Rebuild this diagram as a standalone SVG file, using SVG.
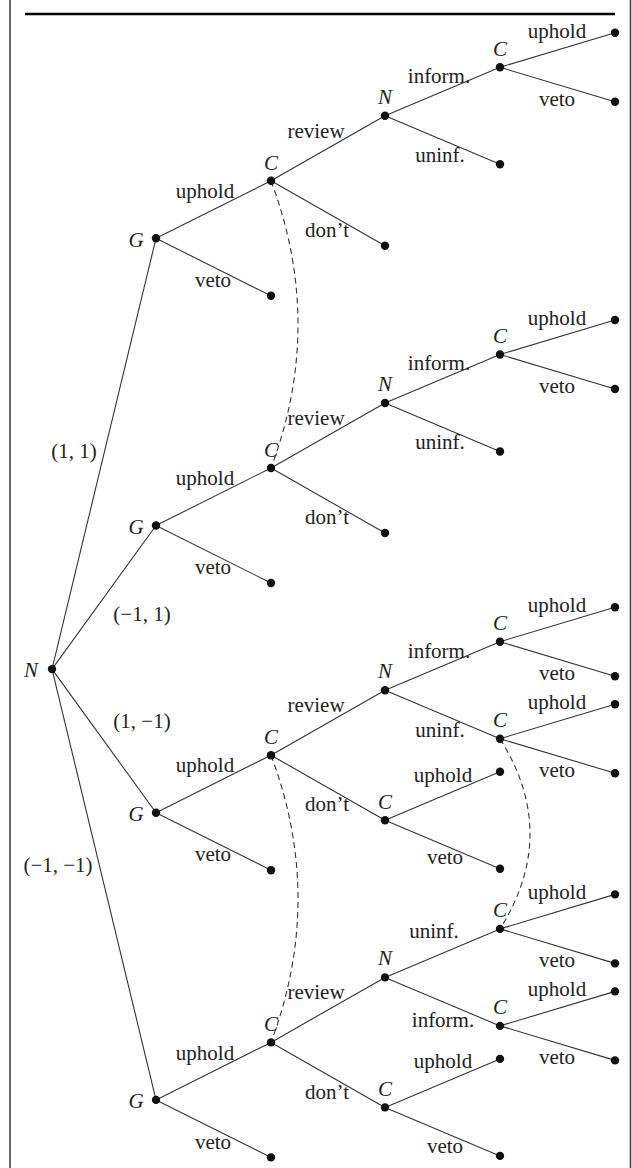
<svg xmlns="http://www.w3.org/2000/svg" width="632" height="1168" viewBox="0 0 632 1168">
<style>
text{font-family:"Liberation Serif","Times New Roman",serif;font-size:21px;fill:#222;text-anchor:middle}
.m{font-style:italic}
.e{stroke:#333;stroke-width:1.1;fill:none}
.d{stroke:#333;stroke-width:1.1;fill:none;stroke-dasharray:6 4}
.dot{fill:#111}
</style>
<rect width="632" height="1168" fill="#fff"/>
<g id="frame">
<line x1="10" y1="0" x2="10" y2="1168" stroke="#444" stroke-width="1.6"/>
<line x1="630.5" y1="0" x2="630.5" y2="1168" stroke="#444" stroke-width="1.6"/>
<line x1="25" y1="14" x2="615" y2="14" stroke="#000" stroke-width="2.6"/>
</g>
<g id="connectors">
<path class="e" d="M52 669.1L156 238.3M52 669.1L156 525.5M52 669.1L156 812.7M52 669.1L156 1099.9"/>
<path class="e" d="M156 238.3L271 180.8M156 238.3L271 295.8M271 180.8L385 115.8M271 180.8L385 245.8M385 115.8L500 67.3M385 115.8L500 164.3M500 67.3L615 32.8M500 67.3L615 101.8"/>
<path class="e" d="M156 525.5L271 468M156 525.5L271 583M271 468L385 403M271 468L385 533M385 403L500 354.5M385 403L500 451.5M500 354.5L615 320M500 354.5L615 389"/>
<path class="e" d="M156 812.7L271 755.2M156 812.7L271 870.2M271 755.2L385 690.2M271 755.2L385 820.2M385 690.2L500 641.7M385 690.2L500 738.7M500 641.7L615 607.2M500 641.7L615 676.2M500 738.7L615 704.2M500 738.7L615 773.2M385 820.2L500 771.7M385 820.2L500 868.7"/>
<path class="e" d="M156 1099.9L271 1042.4M156 1099.9L271 1157.4M271 1042.4L385 977.4M271 1042.4L385 1107.4M385 977.4L500 928.9M385 977.4L500 1025.9M500 928.9L615 894.4M500 928.9L615 963.4M500 1025.9L615 991.4M500 1025.9L615 1060.4M385 1107.4L500 1058.9M385 1107.4L500 1155.9"/>
<path class="d" d="M271 180.8Q325 324.4 271 468"/>
<path class="d" d="M271 755.2Q325 898.8 271 1042.4"/>
<path class="d" d="M500 738.7Q560 833.8 500 928.9"/>
</g>
<g id="root">
<circle class="dot" cx="52" cy="669.1" r="4.2"/>
<text class="m" x="31" y="677">N</text>
<text x="74" y="458">(1, 1)</text>
<text x="142" y="621">(−1, 1)</text>
<text x="142" y="728">(1, −1)</text>
<text x="58" y="872">(−1, −1)</text>
</g>
<g id="block1">
<g class="dot">
<circle cx="156" cy="238.3" r="4.2"/><circle cx="271" cy="180.8" r="4.2"/><circle cx="271" cy="295.8" r="4.2"/><circle cx="385" cy="115.8" r="4.2"/><circle cx="385" cy="245.8" r="4.2"/><circle cx="500" cy="67.3" r="4.2"/><circle cx="500" cy="164.3" r="4.2"/><circle cx="615" cy="32.8" r="4.2"/><circle cx="615" cy="101.8" r="4.2"/>
</g>
<text class="m" x="136" y="247">G</text>
<text class="m" x="271" y="170">C</text>
<text class="m" x="385" y="104">N</text>
<text class="m" x="500" y="56">C</text>
<text x="205" y="198">uphold</text>
<text x="213" y="287">veto</text>
<text x="316" y="138">review</text>
<text x="327" y="237">don’t</text>
<text x="439" y="83">inform.</text>
<text x="440" y="162">uninf.</text>
<text x="557" y="38">uphold</text>
<text x="557" y="106">veto</text>
</g>
<g id="block2">
<g class="dot">
<circle cx="156" cy="525.5" r="4.2"/><circle cx="271" cy="468" r="4.2"/><circle cx="271" cy="583" r="4.2"/><circle cx="385" cy="403" r="4.2"/><circle cx="385" cy="533" r="4.2"/><circle cx="500" cy="354.5" r="4.2"/><circle cx="500" cy="451.5" r="4.2"/><circle cx="615" cy="320" r="4.2"/><circle cx="615" cy="389" r="4.2"/>
</g>
<text class="m" x="136" y="534">G</text>
<text class="m" x="271" y="457">C</text>
<text class="m" x="385" y="391">N</text>
<text class="m" x="500" y="343">C</text>
<text x="205" y="485">uphold</text>
<text x="213" y="574">veto</text>
<text x="316" y="425">review</text>
<text x="327" y="524">don’t</text>
<text x="439" y="370">inform.</text>
<text x="440" y="449">uninf.</text>
<text x="557" y="325">uphold</text>
<text x="557" y="393">veto</text>
</g>
<g id="block3">
<g class="dot">
<circle cx="156" cy="812.7" r="4.2"/><circle cx="271" cy="755.2" r="4.2"/><circle cx="271" cy="870.2" r="4.2"/><circle cx="385" cy="690.2" r="4.2"/><circle cx="385" cy="820.2" r="4.2"/><circle cx="500" cy="641.7" r="4.2"/><circle cx="500" cy="738.7" r="4.2"/><circle cx="615" cy="607.2" r="4.2"/><circle cx="615" cy="676.2" r="4.2"/><circle cx="615" cy="704.2" r="4.2"/><circle cx="615" cy="773.2" r="4.2"/><circle cx="500" cy="771.7" r="4.2"/><circle cx="500" cy="868.7" r="4.2"/>
</g>
<text class="m" x="136" y="821">G</text>
<text class="m" x="271" y="744">C</text>
<text class="m" x="385" y="678">N</text>
<text class="m" x="500" y="630">C</text>
<text class="m" x="500" y="727">C</text>
<text class="m" x="385" y="809">C</text>
<text x="205" y="772">uphold</text>
<text x="213" y="861">veto</text>
<text x="316" y="712">review</text>
<text x="327" y="811">don’t</text>
<text x="439" y="658">inform.</text>
<text x="440" y="737">uninf.</text>
<text x="557" y="612">uphold</text>
<text x="557" y="680">veto</text>
<text x="557" y="709">uphold</text>
<text x="557" y="777">veto</text>
<text x="443" y="782">uphold</text>
<text x="445" y="864">veto</text>
</g>
<g id="block4">
<g class="dot">
<circle cx="156" cy="1099.9" r="4.2"/><circle cx="271" cy="1042.4" r="4.2"/><circle cx="271" cy="1157.4" r="4.2"/><circle cx="385" cy="977.4" r="4.2"/><circle cx="385" cy="1107.4" r="4.2"/><circle cx="500" cy="928.9" r="4.2"/><circle cx="500" cy="1025.9" r="4.2"/><circle cx="615" cy="894.4" r="4.2"/><circle cx="615" cy="963.4" r="4.2"/><circle cx="615" cy="991.4" r="4.2"/><circle cx="615" cy="1060.4" r="4.2"/><circle cx="500" cy="1058.9" r="4.2"/><circle cx="500" cy="1155.9" r="4.2"/>
</g>
<text class="m" x="136" y="1108">G</text>
<text class="m" x="271" y="1031">C</text>
<text class="m" x="385" y="965">N</text>
<text class="m" x="500" y="917">C</text>
<text class="m" x="500" y="1014">C</text>
<text class="m" x="385" y="1096">C</text>
<text x="205" y="1060">uphold</text>
<text x="213" y="1149">veto</text>
<text x="316" y="999">review</text>
<text x="327" y="1099">don’t</text>
<text x="434" y="938">uninf.</text>
<text x="443" y="1027">inform.</text>
<text x="557" y="899">uphold</text>
<text x="557" y="967">veto</text>
<text x="557" y="996">uphold</text>
<text x="557" y="1064">veto</text>
<text x="443" y="1068">uphold</text>
<text x="445" y="1153">veto</text>
</g>
</svg>
